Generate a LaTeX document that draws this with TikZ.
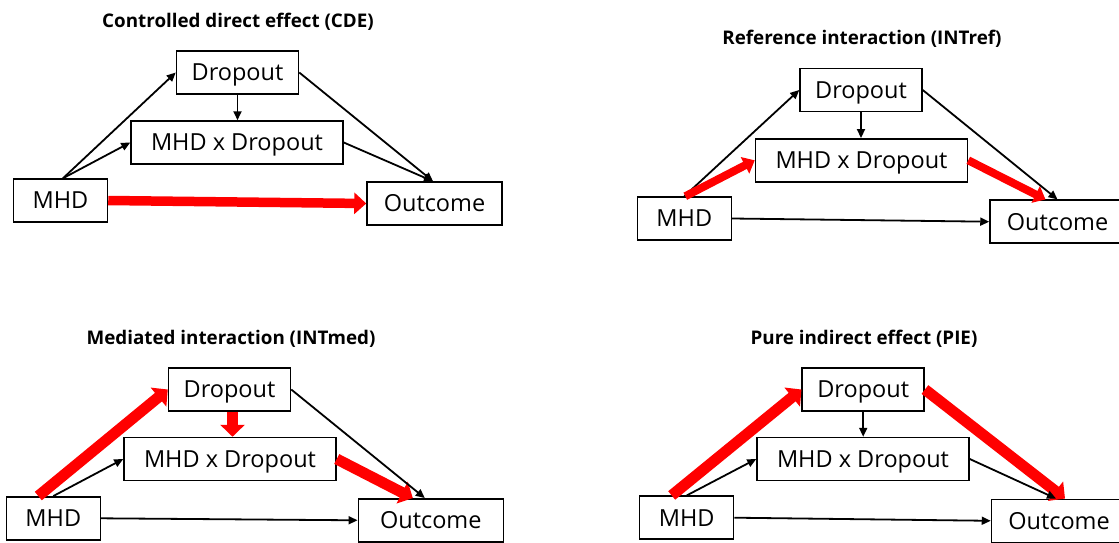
\documentclass[tikz,border=0pt]{standalone}
\usepackage{fontspec}
\setmainfont{Open Sans}
\usetikzlibrary{arrows.meta}
\begin{document}
\begin{tikzpicture}[x=1pt,y=-1pt,
 box/.style={draw, line width=1.5pt, inner sep=0pt, minimum height=43pt, text height=16.7pt, text depth=0pt, font=\fontsize{23.5}{28}\selectfont},
 dbox/.style={box, minimum width=122pt},
 ibox/.style={box, minimum width=212pt},
 mbox/.style={box, minimum width=94pt},
 obox/.style={box, minimum width=135pt},
 ttl/.style={anchor=base, font=\fontsize{18.8}{22}\selectfont\bfseries},
 arr/.style={line width=1.8pt, -{Triangle[length=9pt,width=8pt]}},
 redarr/.style={draw=red, line width=11pt, -{Triangle[length=12pt,width=24pt]}},
 redthin/.style={draw=red, line width=8pt, -{Triangle[length=11pt,width=18pt]}},
 redmid/.style={draw=red, line width=9.5pt, -{Triangle[length=12pt,width=21pt]}},
]
\useasboundingbox (0,0) rectangle (1119,543);

% ---------- Panel 1: CDE ----------
\node[ttl] (t1) at (238,27.3) {Controlled direct effect (CDE)};
\node[dbox] (d1) at (237.5,72.5) {Dropout};
\node[ibox] (i1) at (237,142.5) {MHD x Dropout};
\node[mbox] (m1) at (60.5,200.5) {MHD};
\node[obox] (o1) at (434.5,203.5) {Outcome};
\draw[arr] ([xshift=2.5pt]m1.north) -- (d1.west);
\draw[arr] ([xshift=2.5pt]m1.north) -- (i1.west);
\draw[arr] (d1.south) -- (d1.south |- i1.north);
\draw[arr] (d1.east) -- ([xshift=-1.5pt]o1.north);
\draw[arr] (i1.east) -- ([xshift=-1.5pt]o1.north);
\draw[redmid] (m1.east) -- (o1.west);

% ---------- Panel 2: INTref ----------
\node[ttl] (t2) at (862,45) {Reference interaction (INTref)};
\node[dbox] (d2) at (861,90) {Dropout};
\node[ibox] (i2) at (861.5,160.3) {MHD x Dropout};
\node[mbox] (m2) at (684.3,218.5) {MHD};
\node[obox] (o2) at (1057.5,221.7) {Outcome};
\draw[arr] (m2.north) -- (d2.west);
\draw[redthin] ([xshift=1pt]m2.north) -- (i2.west);
\draw[redthin] (i2.east) -- ([xshift=-12pt]o2.north);
\draw[arr] (d2.south) -- (d2.south |- i2.north);
\draw[arr] (d2.east) -- (o2.north);
\draw[arr] (m2.east) -- (o2.west);

% ---------- Panel 3: INTmed ----------
\node[ttl] (t3) at (231,344) {Mediated interaction (INTmed)};
\node[dbox] (d3) at (229.5,389.5) {Dropout};
\node[ibox] (i3) at (230,459) {MHD x Dropout};
\node[mbox] (m3) at (53.3,518.3) {MHD};
\node[obox, minimum width=145pt] (o3) at (430.8,520.3) {Outcome};
\draw[redarr] ([xshift=-15pt]m3.north) -- (d3.west);
\draw[redarr] ([xshift=3pt]d3.south) -- ([xshift=3pt]d3.south |- i3.north);
\draw[redarr] (i3.east) -- ([xshift=-18pt]o3.north);
\draw[arr] (m3.north) -- (i3.west);
\draw[arr] (d3.east) -- ([xshift=-6pt]o3.north);
\draw[arr] (m3.east) -- (o3.west);

% ---------- Panel 4: PIE ----------
\node[ttl] (t4) at (864,344) {Pure indirect effect (PIE)};
\node[dbox] (d4) at (863.2,389.5) {Dropout};
\node[ibox] (i4) at (863,459) {MHD x Dropout};
\node[mbox] (m4) at (686.7,517.7) {MHD};
\node[obox] (o4) at (1059,520.8) {Outcome};
\draw[redarr] ([xshift=-15pt]m4.north) -- (d4.west);
\draw[redarr] (d4.east) -- ([xshift=6pt]o4.north);
\draw[arr] (m4.north) -- (i4.west);
\draw[arr] (d4.south) -- (d4.south |- i4.north);
\draw[arr] (i4.east) -- ([xshift=-3pt]o4.north);
\draw[arr] (m4.east) -- (o4.west);
\end{tikzpicture}
\end{document}
